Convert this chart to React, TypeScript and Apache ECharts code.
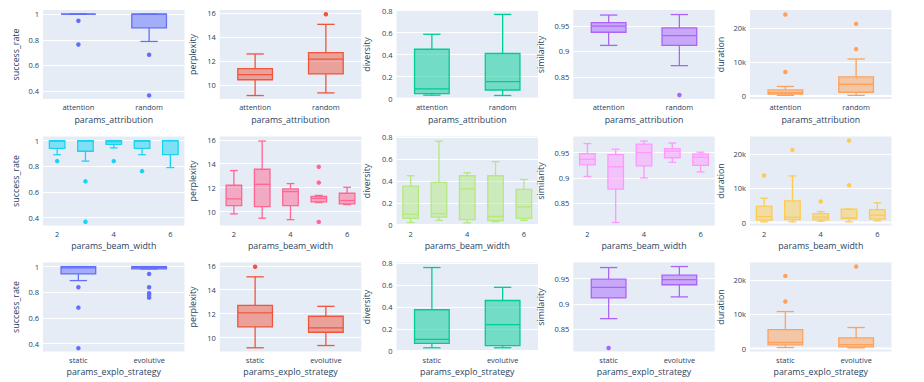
import React, { useEffect, useRef } from 'react';
import * as echarts from 'echarts';

// ---------- categories ----------
const attributionCats = ['attention', 'random'];
const beamWidthCats = ['2', '3', '4', '5', '6'];
const exploStrategyCats = ['static', 'evolutive'];

const groupNames = ['params_attribution', 'params_beam_width', 'params_explo_strategy'];
const metricNames = ['success_rate', 'perplexity', 'diversity', 'similarity', 'duration'];

// ---------- box stats: [lower whisker, q1, median, q3, upper whisker] ----------
// params_attribution
const successRateByAttribution = [[1, 1, 1, 1, 1], [0.787, 0.893, 1, 1, 1]];
const successRateByAttributionOutliers = [[0.948, 0.763], [0.683, 0.366]];
const perplexityByAttribution = [[9.12, 10.44, 10.87, 11.37, 12.6], [9.34, 10.93, 12.16, 12.72, 15.08]];
const perplexityByAttributionOutliers = [[], [15.92]];
const diversityByAttribution = [[0.031, 0.045, 0.088, 0.449, 0.585], [0.028, 0.078, 0.155, 0.41, 0.766]];
const diversityByAttributionOutliers = [[], []];
const similarityByAttribution = [[0.912, 0.938, 0.95, 0.957, 0.972], [0.872, 0.912, 0.9315, 0.9465, 0.973]];
const similarityByAttributionOutliers = [[], [0.814]];
const durationByAttribution = [[200, 600, 1000, 1800, 2800], [200, 1100, 3450, 5600, 10850]];
const durationByAttributionOutliers = [[23900, 7050], [21150, 13750]];

// params_beam_width
const successRateByBeam = [
  [0.89, 0.94, 0.995, 1, 1],
  [0.84, 0.917, 0.995, 1, 1],
  [0.943, 0.97, 0.99, 1, 1],
  [0.89, 0.94, 0.995, 1, 1],
  [0.79, 0.89, 1, 1, 1],
];
const successRateByBeamOutliers = [[0.84], [0.682, 0.367], [0.84], [0.762], []];
const perplexityByBeam = [
  [9.8, 10.5, 11.06, 12.2, 13.43],
  [9.44, 10.41, 12.28, 13.54, 15.9],
  [9.32, 10.5, 11.67, 11.9, 12.34],
  [10.75, 10.8, 11.1, 11.27, 11.35],
  [10.58, 10.64, 10.92, 11.53, 12.03],
];
const perplexityByBeamOutliers = [[], [], [], [13.74, 12.42, 9.13], []];
const diversityByBeam = [
  [0.024, 0.061, 0.098, 0.354, 0.449],
  [0.043, 0.073, 0.104, 0.388, 0.763],
  [0.021, 0.049, 0.33, 0.449, 0.476],
  [0.03, 0.04, 0.079, 0.449, 0.577],
  [0.043, 0.061, 0.165, 0.324, 0.415],
];
const diversityByBeamOutliers = [[], [], [], [], []];
const similarityByBeam = [
  [0.903, 0.926, 0.937, 0.948, 0.968],
  [0.812, 0.878, 0.922, 0.946, 0.957],
  [0.9, 0.924, 0.95, 0.967, 0.973],
  [0.931, 0.94, 0.953, 0.958, 0.969],
  [0.912, 0.925, 0.941, 0.947, 0.951],
];
const similarityByBeamOutliers = [[], [], [], [], []];
const durationByBeam = [
  [200, 680, 1760, 4780, 7120],
  [200, 880, 1560, 6340, 13660],
  [400, 780, 1560, 2630, 3220],
  [200, 1070, 1370, 3900, 3900],
  [490, 980, 2150, 3800, 5760],
];
const durationByBeamOutliers = [[13760], [21270], [6150], [24000, 10930], []];

// params_explo_strategy
const successRateByStrategy = [[0.891, 0.943, 0.99, 1, 1], [0.982, 0.982, 0.995, 1, 1]];
const successRateByStrategyOutliers = [[0.839, 0.68, 0.364], [0.943, 0.839, 0.792, 0.777, 0.758]];
const perplexityByStrategy = [[9.14, 10.89, 12.06, 12.69, 15.08], [9.33, 10.44, 10.81, 11.78, 12.61]];
const perplexityByStrategyOutliers = [[15.92], []];
const diversityByStrategy = [[0.03, 0.07, 0.106, 0.376, 0.76], [0.03, 0.05, 0.24, 0.46, 0.58]];
const diversityByStrategyOutliers = [[], []];
const similarityByStrategy = [[0.871, 0.912, 0.933, 0.949, 0.972], [0.914, 0.938, 0.948, 0.957, 0.974]];
const similarityByStrategyOutliers = [[0.813], []];
const durationByStrategy = [[290, 1070, 1760, 5560, 10830], [200, 490, 1170, 3120, 6150]];
const durationByStrategyOutliers = [[21270, 13760], [24000]];

// ---------- axis ranges and tick labels ----------
const successRateRange = [0.338, 1.032];
const successRateTicks = [0.4, 0.6, 0.8, 1];
const perplexityRange = [8.83, 16.28];
const perplexityTicks = [10, 12, 14, 16];
const diversityRange = [-0.004, 0.806];
const diversityTicks = [0, 0.2, 0.4, 0.6, 0.8];
const similarityRange = [0.806, 0.982];
const similarityTicks = [0.85, 0.9, 0.95];
const durationRange = [-870, 25200];
const durationTicks = [0, 10000, 20000];

const rowColors = [
  ['#636efa', '#EF553B', '#00cc96', '#ab63fa', '#FFA15A'],
  ['#19d3f3', '#FF6692', '#B6E880', '#FF97FF', '#FECB52'],
  ['#636efa', '#EF553B', '#00cc96', '#ab63fa', '#FFA15A'],
];

const rows = [
  {
    cats: attributionCats,
    boxes: [successRateByAttribution, perplexityByAttribution, diversityByAttribution, similarityByAttribution, durationByAttribution],
    outliers: [successRateByAttributionOutliers, perplexityByAttributionOutliers, diversityByAttributionOutliers, similarityByAttributionOutliers, durationByAttributionOutliers],
  },
  {
    cats: beamWidthCats,
    boxes: [successRateByBeam, perplexityByBeam, diversityByBeam, similarityByBeam, durationByBeam],
    outliers: [successRateByBeamOutliers, perplexityByBeamOutliers, diversityByBeamOutliers, similarityByBeamOutliers, durationByBeamOutliers],
  },
  {
    cats: exploStrategyCats,
    boxes: [successRateByStrategy, perplexityByStrategy, diversityByStrategy, similarityByStrategy, durationByStrategy],
    outliers: [successRateByStrategyOutliers, perplexityByStrategyOutliers, diversityByStrategyOutliers, similarityByStrategyOutliers, durationByStrategyOutliers],
  },
];

const metricRanges = [successRateRange, perplexityRange, diversityRange, similarityRange, durationRange];
const metricTicks = [successRateTicks, perplexityTicks, diversityTicks, similarityTicks, durationTicks];

const TEXT = '#2a3f5f';
const FONT = '"Open Sans", Verdana, Arial, sans-serif';
const gridLefts = [43, 219.75, 396.5, 573.25, 750];
const gridTops = [10, 136.5, 262.5];
const GRID_W = 141.5;
const GRID_H = 89;
const yNameGaps = [23, 22, 25, 28, 25];

function rgba(hex: string, a: number) {
  const h = hex.replace('#', '');
  const r = parseInt(h.slice(0, 2), 16);
  const g = parseInt(h.slice(2, 4), 16);
  const b = parseInt(h.slice(4, 6), 16);
  return `rgba(${r},${g},${b},${a})`;
}

function boxRenderer(color: string, ratio: number) {
  return (params: any, api: any) => {
    const x = api.value(0);
    const lo = api.coord([x, api.value(1)]);
    const q1 = api.coord([x, api.value(2)]);
    const md = api.coord([x, api.value(3)]);
    const q3 = api.coord([x, api.value(4)]);
    const hi = api.coord([x, api.value(5)]);
    const band = api.size([1, 0])[0];
    const w = band * ratio;
    const cx = lo[0];
    const half = w / 2;
    const cap = w / 4;
    const ls = { stroke: color, lineWidth: 1.3, fill: null };
    return {
      type: 'group',
      children: [
        {
          type: 'rect',
          shape: { x: cx - half, y: q3[1], width: w, height: q1[1] - q3[1] },
          style: { fill: rgba(color, 0.5), stroke: color, lineWidth: 1.3 },
        },
        { type: 'line', shape: { x1: cx - half, y1: md[1], x2: cx + half, y2: md[1] }, style: ls },
        { type: 'line', shape: { x1: cx, y1: q3[1], x2: cx, y2: hi[1] }, style: ls },
        { type: 'line', shape: { x1: cx, y1: q1[1], x2: cx, y2: lo[1] }, style: ls },
        { type: 'line', shape: { x1: cx - cap, y1: hi[1], x2: cx + cap, y2: hi[1] }, style: ls },
        { type: 'line', shape: { x1: cx - cap, y1: lo[1], x2: cx + cap, y2: lo[1] }, style: ls },
      ],
    };
  };
}

function zeroLineRenderer(params: any, api: any) {
  const cs = params.coordSys;
  const y = api.coord([0, 0])[1];
  return {
    type: 'line',
    shape: { x1: cs.x, y1: y, x2: cs.x + cs.width, y2: y },
    style: { stroke: '#ffffff', lineWidth: 2 },
  };
}

function buildOption() {
  const grid: any[] = [];
  const xAxis: any[] = [];
  const yAxis: any[] = [];
  const series: any[] = [];
  rows.forEach((row, r) => {
    for (let c = 0; c < 5; c++) {
      const idx = r * 5 + c;
      const color = rowColors[r][c];
      const range = metricRanges[c];
      const ticks = metricTicks[c];
      grid.push({ left: gridLefts[c], top: gridTops[r], width: GRID_W, height: GRID_H, backgroundColor: '#E5ECF6', show: true, borderWidth: 0 });
      xAxis.push({
        gridIndex: idx,
        type: 'category',
        data: row.cats,
        boundaryGap: true,
        axisLine: { show: false },
        axisTick: { show: false },
        splitLine: { show: false },
        axisLabel: { color: TEXT, fontSize: 7.5, fontFamily: FONT, margin: 4, interval: r === 1 ? 1 : 0 },
        name: groupNames[r],
        nameLocation: 'middle',
        nameGap: 16,
        nameTextStyle: { color: TEXT, fontSize: 8.8, fontFamily: FONT },
      });
      yAxis.push({
        gridIndex: idx,
        type: 'value',
        min: range[0],
        max: range[1],
        axisLine: { show: false },
        axisTick: { show: false, customValues: ticks },
        splitLine: { show: true, lineStyle: { color: '#ffffff', width: 1 } },
        axisLabel: {
          customValues: ticks,
          color: TEXT,
          fontSize: 7.5,
          fontFamily: FONT,
          margin: 4,
          formatter: (v: number) => (c === 4 ? (v === 0 ? '0' : `${v / 1000}k`) : `${v}`),
        },
        name: metricNames[c],
        nameLocation: 'middle',
        nameGap: yNameGaps[c],
        nameRotate: 90,
        nameTextStyle: { color: TEXT, fontSize: 8.8, fontFamily: FONT },
      });
      if (range[0] < 0 && range[1] > 0) {
        series.push({
          type: 'custom',
          xAxisIndex: idx,
          yAxisIndex: idx,
          z: 1,
          silent: true,
          renderItem: zeroLineRenderer,
          data: [[0, 0]],
          encode: { x: 0, y: 1 },
        });
      }
      const boxData = row.boxes[c].map((b, i) => [i, ...b]);
      series.push({
        type: 'custom',
        xAxisIndex: idx,
        yAxisIndex: idx,
        z: 2,
        renderItem: boxRenderer(color, r === 1 ? 0.55 : 0.49),
        data: boxData,
        encode: { x: 0, y: [1, 2, 3, 4, 5] },
      });
      const pts: number[][] = [];
      row.outliers[c].forEach((vals, i) => vals.forEach((v) => pts.push([i, v])));
      series.push({
        type: 'scatter',
        xAxisIndex: idx,
        yAxisIndex: idx,
        z: 3,
        symbol: 'circle',
        symbolSize: 4.5,
        itemStyle: { color, opacity: 1 },
        data: pts,
      });
    }
  });
  return { animation: false, backgroundColor: '#ffffff', grid, xAxis, yAxis, series };
}

export default function App() {
  const ref = useRef<HTMLDivElement>(null);
  useEffect(() => {
    if (!ref.current) return;
    const chart = echarts.init(ref.current, undefined, { renderer: 'svg' });
    chart.setOption(buildOption() as any);
    return () => chart.dispose();
  }, []);
  return <div ref={ref} style={{ position: 'fixed', left: 0, top: 0, width: 924, height: 382 }} />;
}
